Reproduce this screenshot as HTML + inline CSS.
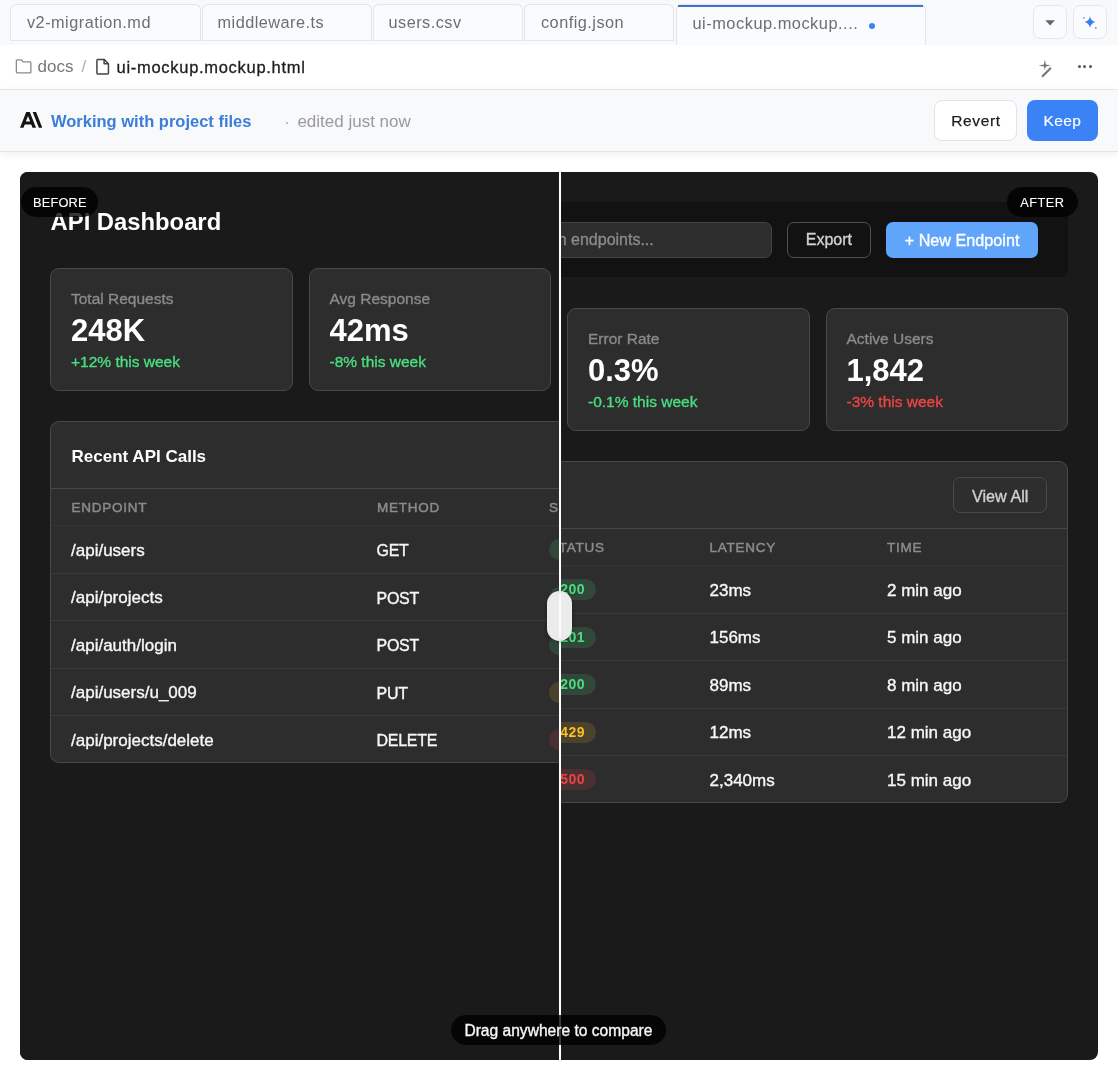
<!DOCTYPE html>
<html><head><meta charset="utf-8"><style>
*{box-sizing:border-box;margin:0;padding:0}
html,body{width:1118px;height:1080px;overflow:hidden;background:#fff;font-family:"Liberation Sans",Arial,sans-serif}
.abs{position:absolute}
.t{position:absolute;line-height:1;white-space:nowrap}
.d .t{-webkit-text-stroke:0.35px currentColor}
</style></head><body>
<div class="abs" style="left:0.00px;top:0.00px;width:1118.00px;height:45.00px;background:#f8f9fa"></div>
<div class="abs" style="left:10.00px;top:4.00px;width:191.00px;height:37.00px;border:1px solid #e3e5e8;border-bottom-color:#e6e7ea;border-radius:6px 6px 0 0;background:#fafbfc"></div>
<div class="t " style="left:27.00px;top:14.40px;font-size:16.3px;color:#6e6e73;letter-spacing:0.48px">v2-migration.md</div>
<div class="abs" style="left:202.00px;top:4.00px;width:170.00px;height:37.00px;border:1px solid #e3e5e8;border-bottom-color:#e6e7ea;border-radius:6px 6px 0 0;background:#fafbfc"></div>
<div class="t " style="left:217.50px;top:14.40px;font-size:16.3px;color:#6e6e73;letter-spacing:0.48px">middleware.ts</div>
<div class="abs" style="left:373.00px;top:4.00px;width:150.00px;height:37.00px;border:1px solid #e3e5e8;border-bottom-color:#e6e7ea;border-radius:6px 6px 0 0;background:#fafbfc"></div>
<div class="t " style="left:388.50px;top:14.40px;font-size:16.3px;color:#6e6e73;letter-spacing:0.48px">users.csv</div>
<div class="abs" style="left:524.00px;top:4.00px;width:150.00px;height:37.00px;border:1px solid #e3e5e8;border-bottom-color:#e6e7ea;border-radius:6px 6px 0 0;background:#fafbfc"></div>
<div class="t " style="left:541.00px;top:14.40px;font-size:16.3px;color:#6e6e73;letter-spacing:0.48px">config.json</div>
<div class="abs" style="left:676.00px;top:4.00px;width:250.00px;height:41.00px;border:1px solid #e3e5e8;border-bottom:none;border-radius:6px 6px 0 0;background:#fafbfc"></div>
<div class="abs" style="left:678.00px;top:5.00px;width:245.00px;height:2.00px;background:#3c72c9"></div>
<div class="t " style="left:692.50px;top:15.22px;font-size:16.4px;color:#6e6e73;letter-spacing:0.5px">ui-mockup.mockup....</div>
<div class="abs" style="left:868.80px;top:22.60px;width:6.40px;height:6.40px;background:#3b82f6;border-radius:50%"></div>
<div class="abs" style="left:1033.00px;top:5.00px;width:34.00px;height:34.00px;border:1px solid #e6e7ea;border-radius:7px;background:#fafbfc"></div>
<div class="abs" style="left:1073.00px;top:5.00px;width:34.00px;height:34.00px;border:1px solid #e6e7ea;border-radius:7px;background:#fafbfc"></div>
<svg class="abs" style="left:1045px;top:20px" width="11" height="6" viewBox="0 0 11 6"><path d="M0.3 0.3h9.6L5.1 5.6z" fill="#666"/></svg>
<svg class="abs" style="left:1080px;top:12px" width="20" height="20" viewBox="0 0 20 20"><path d="M10 4.4 Q11.1 8.9 15.3 10 Q11.1 11.1 10 15.7 Q8.9 11.1 4.6 10 Q8.9 8.9 10 4.4Z" fill="#3a7ee8"/><circle cx="3.8" cy="5.8" r="0.9" fill="#8193b8"/><circle cx="15.8" cy="16" r="0.9" fill="#8193b8"/></svg>
<div class="abs" style="left:0.00px;top:45.00px;width:1118.00px;height:45.00px;background:#fff;border-bottom:1px solid #e8e9ec"></div>
<svg class="abs" style="left:14px;top:57px" width="20" height="19" viewBox="0 0 20 19"><path d="M2.35 3.95a1 1 0 0 1 1-1h4.2l1.5 2h6.8a1 1 0 0 1 1 1v9a1 1 0 0 1-1 1H3.35a1 1 0 0 1-1-1z" fill="none" stroke="#8a8a8e" stroke-width="1.3" stroke-linejoin="round"/></svg>
<div class="t " style="left:37.50px;top:58.21px;font-size:17px;color:#77777b">docs</div>
<div class="t " style="left:81.50px;top:58.21px;font-size:17px;color:#b0b0b4">/</div>
<svg class="abs" style="left:94px;top:57px" width="18" height="20" viewBox="0 0 18 20"><path d="M3.9 2.6h6.4l4.15 4.15v9.3a1 1 0 0 1-1 1H3.9a1 1 0 0 1-1-1V3.6a1 1 0 0 1 1-1z" fill="none" stroke="#444" stroke-width="1.5" stroke-linejoin="round"/><path d="M10.1 2.8v3.95h4.15" fill="none" stroke="#444" stroke-width="1.5" stroke-linejoin="round"/></svg>
<div class="t " style="left:116.60px;top:58.93px;font-size:16.5px;color:#1d1d1f;letter-spacing:0.7px;-webkit-text-stroke:0.3px #1d1d1f">ui-mockup.mockup.html</div>
<svg class="abs" style="left:1035px;top:56px" width="20" height="24" viewBox="0 0 20 24"><path d="M9.9 3.6 L10.9 8.4 L15.9 9.4 L10.9 10.4 L9.9 14 L8.9 10.4 L3.6 9.4 L8.9 8.4 Z" fill="#77777b"/><path d="M7.7 20.1 L15.3 12.4" stroke="#77777b" stroke-width="2.2" stroke-linecap="round"/></svg>
<div class="abs" style="left:1077.60px;top:65.30px;width:3.20px;height:3.20px;background:#555;border-radius:50%"></div>
<div class="abs" style="left:1083.30px;top:65.30px;width:3.20px;height:3.20px;background:#555;border-radius:50%"></div>
<div class="abs" style="left:1089.00px;top:65.30px;width:3.20px;height:3.20px;background:#555;border-radius:50%"></div>
<div class="abs" style="left:0.00px;top:90.00px;width:1118.00px;height:62.00px;background:#f8f9fb;border-bottom:1px solid #e3e5e8;box-shadow:0 2px 8px rgba(0,0,0,0.07)"></div>
<svg class="abs" style="left:20px;top:112px" width="22.3" height="15.8" viewBox="0 3.541 24 16.918"><path d="M17.3041 3.541h-3.6718l6.696 16.918H24Zm-10.6082 0L0 20.459h3.7442l1.3693-3.5527h7.0052l1.3693 3.5528h3.7442L10.5363 3.5409Zm-.3712 10.2232 2.2914-5.9456 2.2914 5.9456Z" fill="#141413"/></svg>
<div class="t " style="left:51.00px;top:113.03px;font-size:16.5px;color:#3b7dd8;font-weight:bold;-webkit-text-stroke:0">Working with project files</div>
<div class="t " style="left:284.20px;top:114.76px;font-size:16px;color:#a0a0a4">&middot;</div>
<div class="t " style="left:297.40px;top:112.61px;font-size:17px;color:#9a9a9e">edited just now</div>
<div class="abs" style="left:934.00px;top:100.00px;width:83.00px;height:40.50px;background:#fff;border:1px solid #e2e4e8;border-radius:8px"></div>
<div class="t " style="left:951.20px;top:113.48px;font-size:15.5px;color:#1d1d1f;letter-spacing:0.65px;-webkit-text-stroke:0.25px #1d1d1f">Revert</div>
<div class="abs" style="left:1027.00px;top:100.00px;width:71.00px;height:40.50px;background:#3b82f6;border-radius:8px"></div>
<div class="t " style="left:1043.60px;top:113.48px;font-size:15.5px;color:#fff;letter-spacing:0.4px;-webkit-text-stroke:0.15px #fff">Keep</div>
<div class="abs d" style="left:20px;top:172px;width:1078px;height:888px;background:#1a1a1a;border-radius:8px;overflow:hidden">
<div class="abs" style="left:0;top:0;width:1078px;height:888px"><div class="abs" style="left:30.00px;top:30.00px;width:1018.00px;height:75.20px;background:#121212;border-radius:8px"></div><div class="t " style="left:50.00px;top:56.68px;font-size:24px;color:#fff;font-weight:bold;-webkit-text-stroke:0">API Dashboard</div><div class="abs" style="left:481.70px;top:50.00px;width:270.00px;height:35.70px;background:#2d2d2d;border:1px solid #444;border-radius:7px"></div><div class="t " style="left:495.90px;top:60.26px;font-size:16px;color:#8a8a8a">Search endpoints...</div><div class="abs" style="left:767.30px;top:50.00px;width:83.60px;height:35.70px;background:transparent;border:1px solid #505050;border-radius:7px"></div><div class="t " style="left:785.80px;top:60.46px;font-size:16px;color:#d2d2d2">Export</div><div class="abs" style="left:866.20px;top:50.00px;width:151.40px;height:35.70px;background:#60a5fa;border-radius:7px"></div><div class="t " style="left:884.70px;top:60.29px;font-size:16.2px;color:#fff">+ New Endpoint</div><div class="abs" style="left:30.00px;top:136.00px;width:242.50px;height:122.50px;background:#2d2d2d;border:1px solid #484848;border-radius:9px"></div><div class="t " style="left:51.00px;top:158.58px;font-size:15.5px;color:#8a8a8a">Total Requests</div><div class="t " style="left:51.00px;top:182.76px;font-size:31px;color:#fff;font-weight:bold;-webkit-text-stroke:0">248K</div><div class="t " style="left:51.00px;top:221.88px;font-size:15.5px;color:#4ade80">+12% this week</div><div class="abs" style="left:288.50px;top:136.00px;width:242.50px;height:122.50px;background:#2d2d2d;border:1px solid #484848;border-radius:9px"></div><div class="t " style="left:309.50px;top:158.58px;font-size:15.5px;color:#8a8a8a">Avg Response</div><div class="t " style="left:309.50px;top:182.76px;font-size:31px;color:#fff;font-weight:bold;-webkit-text-stroke:0">42ms</div><div class="t " style="left:309.50px;top:221.88px;font-size:15.5px;color:#4ade80">-8% this week</div><div class="abs" style="left:547.00px;top:136.00px;width:242.50px;height:122.50px;background:#2d2d2d;border:1px solid #484848;border-radius:9px"></div><div class="t " style="left:568.00px;top:158.58px;font-size:15.5px;color:#8a8a8a">Error Rate</div><div class="t " style="left:568.00px;top:182.76px;font-size:31px;color:#fff;font-weight:bold;-webkit-text-stroke:0">0.3%</div><div class="t " style="left:568.00px;top:221.88px;font-size:15.5px;color:#4ade80">-0.1% this week</div><div class="abs" style="left:805.50px;top:136.00px;width:242.50px;height:122.50px;background:#2d2d2d;border:1px solid #484848;border-radius:9px"></div><div class="t " style="left:826.50px;top:158.58px;font-size:15.5px;color:#8a8a8a">Active Users</div><div class="t " style="left:826.50px;top:182.76px;font-size:31px;color:#fff;font-weight:bold;-webkit-text-stroke:0">1,842</div><div class="t " style="left:826.50px;top:221.88px;font-size:15.5px;color:#ef4444">-3% this week</div><div class="abs" style="left:30.00px;top:289.00px;width:1018.00px;height:342.00px;background:#2d2d2d;border:1px solid #484848;border-radius:9px"></div><div class="t " style="left:51.60px;top:316.01px;font-size:17px;color:#fff;font-weight:bold;-webkit-text-stroke:0">Recent API Calls</div><div class="abs" style="left:933.20px;top:305.00px;width:93.40px;height:35.60px;background:#2e2e2e;border:1px solid #4a4a4a;border-radius:7px"></div><div class="t " style="left:952.00px;top:315.59px;font-size:16.2px;color:#d0d0d0">View All</div><div class="abs" style="left:31.00px;top:356.00px;width:1016.00px;height:1.00px;background:#474747"></div><div class="t " style="left:51.60px;top:369.07px;font-size:13.5px;color:#8c8c8c;letter-spacing:0.75px;-webkit-text-stroke:0.45px #8c8c8c">ENDPOINT</div><div class="t " style="left:357.00px;top:369.07px;font-size:13.5px;color:#8c8c8c;letter-spacing:0.75px;-webkit-text-stroke:0.45px #8c8c8c">METHOD</div><div class="t " style="left:529.00px;top:369.07px;font-size:13.5px;color:#8c8c8c;letter-spacing:0.75px;-webkit-text-stroke:0.45px #8c8c8c">STATUS</div><div class="t " style="left:689.50px;top:369.07px;font-size:13.5px;color:#8c8c8c;letter-spacing:0.75px;-webkit-text-stroke:0.45px #8c8c8c">LATENCY</div><div class="t " style="left:867.00px;top:369.07px;font-size:13.5px;color:#8c8c8c;letter-spacing:0.75px;-webkit-text-stroke:0.45px #8c8c8c">TIME</div><div class="abs" style="left:31.00px;top:393.00px;width:1016.00px;height:1.00px;background:#363636"></div><div class="t " style="left:51.00px;top:409.51px;font-size:17px;color:#f7f7f7">/api/users</div><div class="t " style="left:356.60px;top:411.16px;font-size:16px;color:#f7f7f7;letter-spacing:-0.3px">GET</div><div class="abs" style="left:529.10px;top:407.20px;width:47.00px;height:21.00px;background:rgba(74,222,128,0.15);border-radius:11px"></div><div class="t " style="left:540.30px;top:410.45px;font-size:14px;color:#4ade80;font-weight:bold;letter-spacing:0.4px;-webkit-text-stroke:0">200</div><div class="t " style="left:689.50px;top:409.51px;font-size:17px;color:#f7f7f7">23ms</div><div class="t " style="left:867.00px;top:409.51px;font-size:17px;color:#f7f7f7">2 min ago</div><div class="abs" style="left:31.00px;top:440.50px;width:1016.00px;height:1.00px;background:#393939"></div><div class="t " style="left:51.00px;top:457.01px;font-size:17px;color:#f7f7f7">/api/projects</div><div class="t " style="left:356.60px;top:458.66px;font-size:16px;color:#f7f7f7;letter-spacing:-0.3px">POST</div><div class="abs" style="left:529.10px;top:454.70px;width:47.00px;height:21.00px;background:rgba(74,222,128,0.15);border-radius:11px"></div><div class="t " style="left:540.30px;top:457.95px;font-size:14px;color:#4ade80;font-weight:bold;letter-spacing:0.4px;-webkit-text-stroke:0">201</div><div class="t " style="left:689.50px;top:457.01px;font-size:17px;color:#f7f7f7">156ms</div><div class="t " style="left:867.00px;top:457.01px;font-size:17px;color:#f7f7f7">5 min ago</div><div class="abs" style="left:31.00px;top:488.00px;width:1016.00px;height:1.00px;background:#393939"></div><div class="t " style="left:51.00px;top:504.51px;font-size:17px;color:#f7f7f7">/api/auth/login</div><div class="t " style="left:356.60px;top:506.16px;font-size:16px;color:#f7f7f7;letter-spacing:-0.3px">POST</div><div class="abs" style="left:529.10px;top:502.20px;width:47.00px;height:21.00px;background:rgba(74,222,128,0.15);border-radius:11px"></div><div class="t " style="left:540.30px;top:505.45px;font-size:14px;color:#4ade80;font-weight:bold;letter-spacing:0.4px;-webkit-text-stroke:0">200</div><div class="t " style="left:689.50px;top:504.51px;font-size:17px;color:#f7f7f7">89ms</div><div class="t " style="left:867.00px;top:504.51px;font-size:17px;color:#f7f7f7">8 min ago</div><div class="abs" style="left:31.00px;top:535.50px;width:1016.00px;height:1.00px;background:#393939"></div><div class="t " style="left:51.00px;top:552.01px;font-size:17px;color:#f7f7f7">/api/users/u_009</div><div class="t " style="left:356.60px;top:553.66px;font-size:16px;color:#f7f7f7;letter-spacing:-0.3px">PUT</div><div class="abs" style="left:529.10px;top:549.70px;width:47.00px;height:21.00px;background:rgba(251,191,36,0.15);border-radius:11px"></div><div class="t " style="left:540.30px;top:552.95px;font-size:14px;color:#fbbf24;font-weight:bold;letter-spacing:0.4px;-webkit-text-stroke:0">429</div><div class="t " style="left:689.50px;top:552.01px;font-size:17px;color:#f7f7f7">12ms</div><div class="t " style="left:867.00px;top:552.01px;font-size:17px;color:#f7f7f7">12 min ago</div><div class="abs" style="left:31.00px;top:583.00px;width:1016.00px;height:1.00px;background:#393939"></div><div class="t " style="left:51.00px;top:599.51px;font-size:17px;color:#f7f7f7">/api/projects/delete</div><div class="t " style="left:356.60px;top:601.16px;font-size:16px;color:#f7f7f7;letter-spacing:-0.3px">DELETE</div><div class="abs" style="left:529.10px;top:597.20px;width:47.00px;height:21.00px;background:rgba(239,68,68,0.15);border-radius:11px"></div><div class="t " style="left:540.30px;top:600.45px;font-size:14px;color:#ef4444;font-weight:bold;letter-spacing:0.4px;-webkit-text-stroke:0">500</div><div class="t " style="left:689.50px;top:599.51px;font-size:17px;color:#f7f7f7">2,340ms</div><div class="t " style="left:867.00px;top:599.51px;font-size:17px;color:#f7f7f7">15 min ago</div></div>
<div class="abs" style="left:0;top:0;width:539px;height:888px;overflow:hidden;background:#1a1a1a"><div class="t " style="left:30.60px;top:37.65px;font-size:23.8px;color:#fff;font-weight:bold;-webkit-text-stroke:0">API Dashboard</div><div class="abs" style="left:30.00px;top:96.00px;width:242.50px;height:122.50px;background:#2d2d2d;border:1px solid #484848;border-radius:9px"></div><div class="t " style="left:51.00px;top:118.58px;font-size:15.5px;color:#8a8a8a">Total Requests</div><div class="t " style="left:51.00px;top:142.76px;font-size:31px;color:#fff;font-weight:bold;-webkit-text-stroke:0">248K</div><div class="t " style="left:51.00px;top:181.88px;font-size:15.5px;color:#4ade80">+12% this week</div><div class="abs" style="left:288.50px;top:96.00px;width:242.50px;height:122.50px;background:#2d2d2d;border:1px solid #484848;border-radius:9px"></div><div class="t " style="left:309.50px;top:118.58px;font-size:15.5px;color:#8a8a8a">Avg Response</div><div class="t " style="left:309.50px;top:142.76px;font-size:31px;color:#fff;font-weight:bold;-webkit-text-stroke:0">42ms</div><div class="t " style="left:309.50px;top:181.88px;font-size:15.5px;color:#4ade80">-8% this week</div><div class="abs" style="left:547.00px;top:96.00px;width:242.50px;height:122.50px;background:#2d2d2d;border:1px solid #484848;border-radius:9px"></div><div class="t " style="left:568.00px;top:118.58px;font-size:15.5px;color:#8a8a8a">Error Rate</div><div class="t " style="left:568.00px;top:142.76px;font-size:31px;color:#fff;font-weight:bold;-webkit-text-stroke:0">0.3%</div><div class="t " style="left:568.00px;top:181.88px;font-size:15.5px;color:#4ade80">-0.1% this week</div><div class="abs" style="left:805.50px;top:96.00px;width:242.50px;height:122.50px;background:#2d2d2d;border:1px solid #484848;border-radius:9px"></div><div class="t " style="left:826.50px;top:118.58px;font-size:15.5px;color:#8a8a8a">Active Users</div><div class="t " style="left:826.50px;top:142.76px;font-size:31px;color:#fff;font-weight:bold;-webkit-text-stroke:0">1,842</div><div class="t " style="left:826.50px;top:181.88px;font-size:15.5px;color:#ef4444">-3% this week</div><div class="abs" style="left:30.00px;top:249.00px;width:1018.00px;height:342.00px;background:#2d2d2d;border:1px solid #484848;border-radius:9px"></div><div class="t " style="left:51.60px;top:276.01px;font-size:17px;color:#fff;font-weight:bold;-webkit-text-stroke:0">Recent API Calls</div><div class="abs" style="left:31.00px;top:316.00px;width:1016.00px;height:1.00px;background:#474747"></div><div class="t " style="left:51.60px;top:329.07px;font-size:13.5px;color:#8c8c8c;letter-spacing:0.75px;-webkit-text-stroke:0.45px #8c8c8c">ENDPOINT</div><div class="t " style="left:357.00px;top:329.07px;font-size:13.5px;color:#8c8c8c;letter-spacing:0.75px;-webkit-text-stroke:0.45px #8c8c8c">METHOD</div><div class="t " style="left:529.00px;top:329.07px;font-size:13.5px;color:#8c8c8c;letter-spacing:0.75px;-webkit-text-stroke:0.45px #8c8c8c">STATUS</div><div class="t " style="left:689.50px;top:329.07px;font-size:13.5px;color:#8c8c8c;letter-spacing:0.75px;-webkit-text-stroke:0.45px #8c8c8c">LATENCY</div><div class="t " style="left:867.00px;top:329.07px;font-size:13.5px;color:#8c8c8c;letter-spacing:0.75px;-webkit-text-stroke:0.45px #8c8c8c">TIME</div><div class="abs" style="left:31.00px;top:353.00px;width:1016.00px;height:1.00px;background:#363636"></div><div class="t " style="left:51.00px;top:369.51px;font-size:17px;color:#f7f7f7">/api/users</div><div class="t " style="left:356.60px;top:371.16px;font-size:16px;color:#f7f7f7;letter-spacing:-0.3px">GET</div><div class="abs" style="left:529.10px;top:367.20px;width:47.00px;height:21.00px;background:rgba(74,222,128,0.15);border-radius:11px"></div><div class="t " style="left:540.30px;top:370.45px;font-size:14px;color:#4ade80;font-weight:bold;letter-spacing:0.4px;-webkit-text-stroke:0">200</div><div class="t " style="left:689.50px;top:369.51px;font-size:17px;color:#f7f7f7">23ms</div><div class="t " style="left:867.00px;top:369.51px;font-size:17px;color:#f7f7f7">2 min ago</div><div class="abs" style="left:31.00px;top:400.50px;width:1016.00px;height:1.00px;background:#393939"></div><div class="t " style="left:51.00px;top:417.01px;font-size:17px;color:#f7f7f7">/api/projects</div><div class="t " style="left:356.60px;top:418.66px;font-size:16px;color:#f7f7f7;letter-spacing:-0.3px">POST</div><div class="abs" style="left:529.10px;top:414.70px;width:47.00px;height:21.00px;background:rgba(74,222,128,0.15);border-radius:11px"></div><div class="t " style="left:540.30px;top:417.95px;font-size:14px;color:#4ade80;font-weight:bold;letter-spacing:0.4px;-webkit-text-stroke:0">201</div><div class="t " style="left:689.50px;top:417.01px;font-size:17px;color:#f7f7f7">156ms</div><div class="t " style="left:867.00px;top:417.01px;font-size:17px;color:#f7f7f7">5 min ago</div><div class="abs" style="left:31.00px;top:448.00px;width:1016.00px;height:1.00px;background:#393939"></div><div class="t " style="left:51.00px;top:464.51px;font-size:17px;color:#f7f7f7">/api/auth/login</div><div class="t " style="left:356.60px;top:466.16px;font-size:16px;color:#f7f7f7;letter-spacing:-0.3px">POST</div><div class="abs" style="left:529.10px;top:462.20px;width:47.00px;height:21.00px;background:rgba(74,222,128,0.15);border-radius:11px"></div><div class="t " style="left:540.30px;top:465.45px;font-size:14px;color:#4ade80;font-weight:bold;letter-spacing:0.4px;-webkit-text-stroke:0">200</div><div class="t " style="left:689.50px;top:464.51px;font-size:17px;color:#f7f7f7">89ms</div><div class="t " style="left:867.00px;top:464.51px;font-size:17px;color:#f7f7f7">8 min ago</div><div class="abs" style="left:31.00px;top:495.50px;width:1016.00px;height:1.00px;background:#393939"></div><div class="t " style="left:51.00px;top:512.01px;font-size:17px;color:#f7f7f7">/api/users/u_009</div><div class="t " style="left:356.60px;top:513.66px;font-size:16px;color:#f7f7f7;letter-spacing:-0.3px">PUT</div><div class="abs" style="left:529.10px;top:509.70px;width:47.00px;height:21.00px;background:rgba(251,191,36,0.15);border-radius:11px"></div><div class="t " style="left:540.30px;top:512.95px;font-size:14px;color:#fbbf24;font-weight:bold;letter-spacing:0.4px;-webkit-text-stroke:0">429</div><div class="t " style="left:689.50px;top:512.01px;font-size:17px;color:#f7f7f7">12ms</div><div class="t " style="left:867.00px;top:512.01px;font-size:17px;color:#f7f7f7">12 min ago</div><div class="abs" style="left:31.00px;top:543.00px;width:1016.00px;height:1.00px;background:#393939"></div><div class="t " style="left:51.00px;top:559.51px;font-size:17px;color:#f7f7f7">/api/projects/delete</div><div class="t " style="left:356.60px;top:561.16px;font-size:16px;color:#f7f7f7;letter-spacing:-0.3px">DELETE</div><div class="abs" style="left:529.10px;top:557.20px;width:47.00px;height:21.00px;background:rgba(239,68,68,0.15);border-radius:11px"></div><div class="t " style="left:540.30px;top:560.45px;font-size:14px;color:#ef4444;font-weight:bold;letter-spacing:0.4px;-webkit-text-stroke:0">500</div><div class="t " style="left:689.50px;top:559.51px;font-size:17px;color:#f7f7f7">2,340ms</div><div class="t " style="left:867.00px;top:559.51px;font-size:17px;color:#f7f7f7">15 min ago</div></div>
<div class="abs" style="left:539.00px;top:0.00px;width:2.00px;height:888.00px;background:#fff"></div>
<div class="abs" style="left:527.30px;top:418.80px;width:25.20px;height:50.20px;background:#ebebeb;border-radius:12.6px;box-shadow:0 1px 4px rgba(0,0,0,0.3)"></div>
<div class="abs" style="left:539.00px;top:422.00px;width:2.00px;height:44.00px;background:#fbfbfb"></div>
<div class="abs" style="left:1.00px;top:15.30px;width:77.00px;height:30.20px;background:rgba(0,0,0,0.78);border-radius:15px"></div>
<div class="t " style="left:12.90px;top:24.76px;font-size:12.8px;color:#fff;letter-spacing:0.22px;-webkit-text-stroke:0.1px #fff">BEFORE</div>
<div class="abs" style="left:987.00px;top:15.30px;width:71.00px;height:30.20px;background:rgba(0,0,0,0.78);border-radius:15px"></div>
<div class="t " style="left:1000.30px;top:24.96px;font-size:12.8px;color:#fff;letter-spacing:0.45px;-webkit-text-stroke:0.1px #fff">AFTER</div>
<div class="abs" style="left:431.40px;top:843.00px;width:214.60px;height:30.00px;background:rgba(0,0,0,0.78);border-radius:15px"></div>
<div class="t " style="left:444.40px;top:850.79px;font-size:15.6px;color:#f7f7f7">Drag anywhere to compare</div>
</div>
</body></html>
